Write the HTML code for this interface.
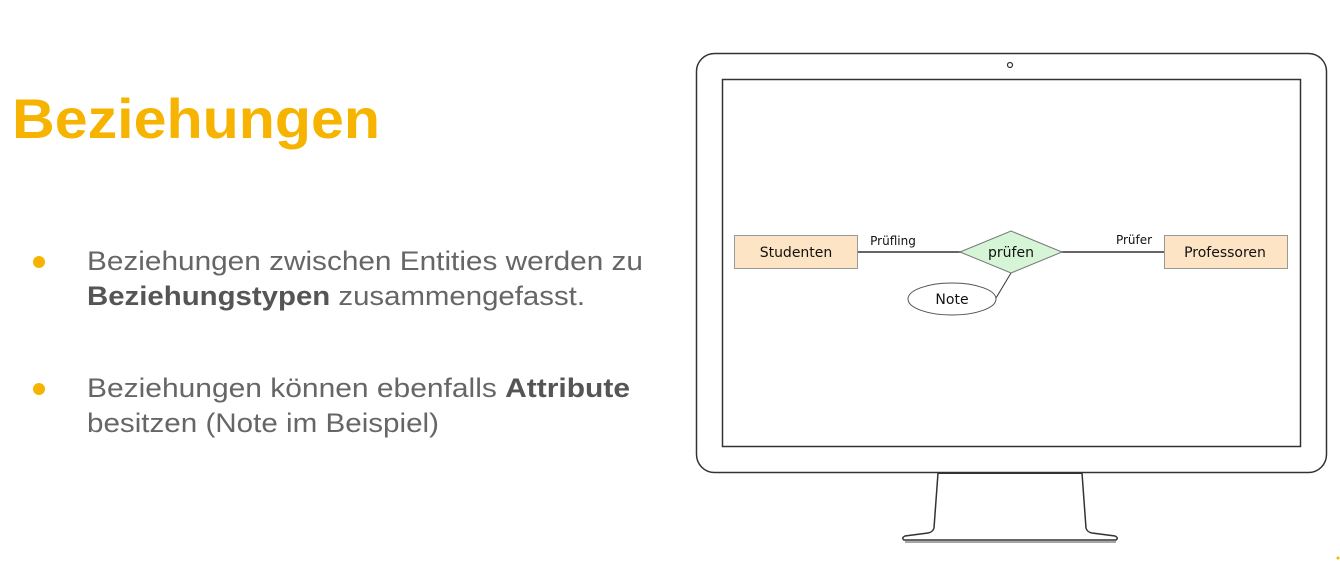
<!DOCTYPE html>
<html><head><meta charset="utf-8"><style>
html,body{margin:0;padding:0;background:#fff;width:1340px;height:568px;overflow:hidden}
svg{display:block}
</style></head><body>
<svg width="1340" height="568" viewBox="0 0 1340 568" xmlns="http://www.w3.org/2000/svg" font-family="Liberation Sans, sans-serif">
<text x="12" y="138" font-size="56" font-weight="bold" fill="#f6b400" textLength="368" lengthAdjust="spacingAndGlyphs">Beziehungen</text>
<circle cx="39" cy="262" r="6" fill="#f6b400"/>
<circle cx="39" cy="389" r="6" fill="#f6b400"/>
<g font-size="27" fill="#666">
<text x="87" y="270" textLength="556" lengthAdjust="spacingAndGlyphs">Beziehungen zwischen Entities werden zu</text>
<text x="87" y="305" textLength="498" lengthAdjust="spacingAndGlyphs"><tspan font-weight="bold" fill="#555">Beziehungstypen</tspan> zusammengefasst.</text>
<text x="87" y="397" textLength="543" lengthAdjust="spacingAndGlyphs">Beziehungen können ebenfalls <tspan font-weight="bold" fill="#555">Attribute</tspan></text>
<text x="87" y="432" textLength="352" lengthAdjust="spacingAndGlyphs">besitzen (Note im Beispiel)</text>
</g>
<rect x="696.5" y="53.5" width="630" height="419" rx="18" fill="#fff" stroke="#333" stroke-width="1.5"/>
<rect x="722.5" y="79.5" width="578" height="367" fill="#fff" stroke="#333" stroke-width="1.5"/>
<circle cx="1010" cy="65" r="2.5" fill="none" stroke="#333" stroke-width="1.2"/>
<path d="M938 473 L934 528 Q933 532 928 533 L905 536 Q901 538 904 540 L1116 540 Q1119 538 1115 536 L1092 533 Q1087 532 1086 528 L1082 473" fill="#fff" stroke="#333" stroke-width="1.5"/>
<line x1="938" y1="473" x2="1082" y2="473" stroke="#333" stroke-width="2"/>
<line x1="905" y1="542" x2="1116" y2="542" stroke="#888" stroke-width="1.5"/>
<line x1="858" y1="252" x2="1164" y2="252" stroke="#333" stroke-width="1.5"/>
<line x1="1011" y1="273" x2="996" y2="298" stroke="#333" stroke-width="1"/>
<rect x="734.5" y="235.5" width="123" height="33" fill="#fde4c4" stroke="#999"/>
<rect x="1164.5" y="235.5" width="123" height="33" fill="#fde4c4" stroke="#999"/>
<polygon points="960,252 1011,231 1062,252 1011,273" fill="#d6f5d6" stroke="#777"/>
<ellipse cx="952" cy="299" rx="44" ry="16" fill="#fff" stroke="#555"/>
<g font-family="DejaVu Sans, sans-serif" fill="#111" text-anchor="middle">
<text x="796" y="257" font-size="14">Studenten</text>
<text x="1225" y="257" font-size="14">Professoren</text>
<text x="1011" y="257" font-size="14">prüfen</text>
<text x="952" y="304" font-size="14">Note</text>
<text x="893" y="245" font-size="12">Prüfling</text>
<text x="1134" y="244" font-size="12">Prüfer</text>
</g>
<circle cx="1338" cy="558" r="1.5" fill="#f6b400"/>
</svg>
</body></html>
